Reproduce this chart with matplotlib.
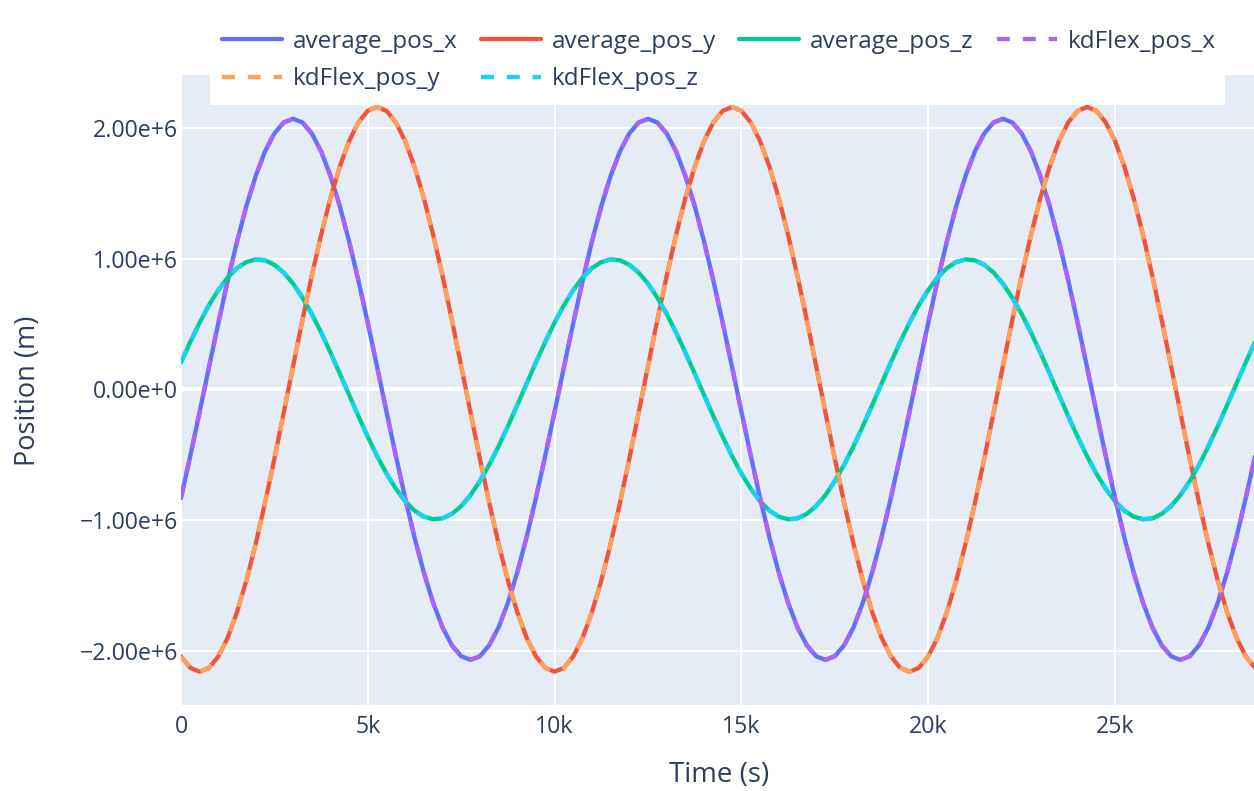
import numpy as np
import matplotlib
matplotlib.use("Agg")
import matplotlib.pyplot as plt
from matplotlib.patches import Rectangle

# ---- data (values in units of 1e6 m), sampled every 250 s ----
time_s = np.arange(0, 29001, 250)

average_pos_x = [
    -0.831, -0.508, -0.171, 0.171, 0.508, 0.831, 1.132, 1.402, 1.633, 1.821, 1.958, 2.042, 2.070, 2.042, 1.958, 1.821, 1.633, 1.402, 1.132, 0.831,
    0.508, 0.171, -0.171, -0.508, -0.831, -1.132, -1.402, -1.633, -1.821, -1.958, -2.042, -2.070, -2.042, -1.958, -1.821, -1.633, -1.402, -1.132,
    -0.831, -0.508, -0.171, 0.171, 0.508, 0.831, 1.132, 1.402, 1.633, 1.821, 1.958, 2.042, 2.070, 2.042, 1.958, 1.821, 1.633, 1.402, 1.132, 0.831,
    0.508, 0.171, -0.171, -0.508, -0.831, -1.132, -1.402, -1.633, -1.821, -1.958, -2.042, -2.070, -2.042, -1.958, -1.821, -1.633, -1.402, -1.132,
    -0.831, -0.508, -0.171, 0.171, 0.508, 0.831, 1.132, 1.402, 1.633, 1.821, 1.958, 2.042, 2.070, 2.042, 1.958, 1.821, 1.633, 1.402, 1.132, 0.831,
    0.508, 0.171, -0.171, -0.508, -0.831, -1.132, -1.402, -1.633, -1.821, -1.958, -2.042, -2.070, -2.042, -1.958, -1.821, -1.633, -1.402, -1.132,
    -0.831, -0.508, -0.171,
]

average_pos_y = [
    -2.043, -2.131, -2.160, -2.131, -2.043, -1.900, -1.704, -1.463, -1.181, -0.868, -0.530, -0.178, 0.178, 0.530, 0.868, 1.181, 1.463, 1.704, 1.900,
    2.043, 2.131, 2.160, 2.131, 2.043, 1.900, 1.704, 1.463, 1.181, 0.868, 0.530, 0.178, -0.178, -0.530, -0.868, -1.181, -1.463, -1.704, -1.900,
    -2.043, -2.131, -2.160, -2.131, -2.043, -1.900, -1.704, -1.463, -1.181, -0.868, -0.530, -0.178, 0.178, 0.530, 0.868, 1.181, 1.463, 1.704, 1.900,
    2.043, 2.131, 2.160, 2.131, 2.043, 1.900, 1.704, 1.463, 1.181, 0.868, 0.530, 0.178, -0.178, -0.530, -0.868, -1.181, -1.463, -1.704, -1.900,
    -2.043, -2.131, -2.160, -2.131, -2.043, -1.900, -1.704, -1.463, -1.181, -0.868, -0.530, -0.178, 0.178, 0.530, 0.868, 1.181, 1.463, 1.704, 1.900,
    2.043, 2.131, 2.160, 2.131, 2.043, 1.900, 1.704, 1.463, 1.181, 0.868, 0.530, 0.178, -0.178, -0.530, -0.868, -1.181, -1.463, -1.704, -1.900,
    -2.043, -2.131, -2.160,
]

average_pos_z = [
    0.206, 0.363, 0.511, 0.644, 0.760, 0.856, 0.928, 0.974, 0.994, 0.987, 0.953, 0.893, 0.809, 0.702, 0.577, 0.436, 0.282, 0.121, -0.043,
    -0.206, -0.363, -0.511, -0.644, -0.760, -0.856, -0.928, -0.974, -0.994, -0.987, -0.953, -0.893, -0.809, -0.702, -0.577, -0.436, -0.282, -0.121, 0.043,
    0.206, 0.363, 0.511, 0.644, 0.760, 0.856, 0.928, 0.974, 0.994, 0.987, 0.953, 0.893, 0.809, 0.702, 0.577, 0.436, 0.282, 0.121, -0.043,
    -0.206, -0.363, -0.511, -0.644, -0.760, -0.856, -0.928, -0.974, -0.994, -0.987, -0.953, -0.893, -0.809, -0.702, -0.577, -0.436, -0.282, -0.121, 0.043,
    0.206, 0.363, 0.511, 0.644, 0.760, 0.856, 0.928, 0.974, 0.994, 0.987, 0.953, 0.893, 0.809, 0.702, 0.577, 0.436, 0.282, 0.121, -0.043,
    -0.206, -0.363, -0.511, -0.644, -0.760, -0.856, -0.928, -0.974, -0.994, -0.987, -0.953, -0.893, -0.809, -0.702, -0.577, -0.436, -0.282, -0.121, 0.043,
    0.206, 0.363, 0.511,
]

# kdFlex results coincide with the averaged ones in the picture
kdFlex_pos_x = list(average_pos_x)
kdFlex_pos_y = list(average_pos_y)
kdFlex_pos_z = list(average_pos_z)

y_ticks = [-2e6, -1e6, 0, 1e6, 2e6]
y_tick_labels = ["\u22122.00e+6", "\u22121.00e+6", "0.00e+0", "1.00e+6", "2.00e+6"]
x_ticks = [0, 5000, 10000, 15000, 20000, 25000]
x_tick_labels = ["0", "5k", "10k", "15k", "20k", "25k"]

# ---- style ----
FONT = ["Open Sans", "DejaVu Sans"]
TXT = "#2a3f5f"
plt.rcParams["font.family"] = FONT

W, H = 1254, 791
fig = plt.figure(figsize=(W / 100, H / 100), dpi=100)
fig.patch.set_facecolor("white")

left_px, right_px, top_px, bottom_px = 181, 1254, 75, 705
ax = fig.add_axes([left_px / W, 1 - bottom_px / H, (right_px - left_px) / W, (bottom_px - top_px) / H])
ax.set_facecolor("#E5ECF6")
for s in ax.spines.values():
    s.set_visible(False)

scale = 1e6
lw = 3.1
series = [
    ("average_pos_x", average_pos_x, "#636EFA", "-"),
    ("average_pos_y", average_pos_y, "#EF553B", "-"),
    ("average_pos_z", average_pos_z, "#00CC96", "-"),
    ("kdFlex_pos_x", kdFlex_pos_x, "#AB63FA", "--"),
    ("kdFlex_pos_y", kdFlex_pos_y, "#FFA15A", "--"),
    ("kdFlex_pos_z", kdFlex_pos_z, "#19D3F3", "--"),
]
handles = {}
for name, vals, col, ls in series:
    (ln,) = ax.plot(time_s, np.array(vals) * scale, color=col, lw=lw, solid_capstyle="round",
                    dash_capstyle="butt", zorder=3)
    if ls == "--":
        ln.set_dashes([3, 3])
    handles[name] = ln

ax.set_xlim(0, 28720)
ax.set_ylim(-2.415e6, 2.405e6)

ax.set_yticks(y_ticks)
ax.set_yticklabels(y_tick_labels)
ax.set_xticks(x_ticks)
ax.set_xticklabels(x_tick_labels)
ax.tick_params(axis="both", length=0, labelsize=16.7, labelcolor=TXT)
ax.tick_params(axis="y", pad=2)
ax.tick_params(axis="x", pad=7)
ax.grid(True, color="white", lw=1.5, zorder=0)
ax.set_axisbelow(True)
ax.axhline(0, color="white", lw=3.0, zorder=1)

fig.text(28 / W, 1 - 391 / H, "Position (m)", rotation=90, ha="center", va="center",
         fontsize=19.5, color=TXT)
fig.text(719 / W, 1 - 775 / H, "Time (s)", ha="center", va="center", fontsize=20, color=TXT)

# legend box
fig.patches.append(Rectangle((210 / W, 1 - 105 / H), (1225 - 210) / W, (105 - 22) / H,
                             transform=fig.transFigure, facecolor="white", edgecolor="none", zorder=1))
order = ["average_pos_x", "kdFlex_pos_y", "average_pos_y", "kdFlex_pos_z", "average_pos_z", "kdFlex_pos_x"]
leg = fig.legend([handles[n] for n in order], order, ncol=4, loc="upper left",
                 bbox_to_anchor=(222 / W, 1 - 30 / H), frameon=False, fontsize=17.5,
                 handlelength=2.47, handletextpad=0.45, columnspacing=0.95, labelspacing=0.55,
                 borderpad=0, borderaxespad=0, labelcolor=TXT)
leg.set_zorder(2)

fig.savefig("out.png", dpi=100)
